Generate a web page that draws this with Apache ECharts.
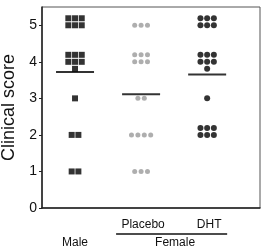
<!DOCTYPE html>
<html>
<head>
<meta charset="utf-8">
<script src="https://cdn.jsdelivr.net/npm/echarts@6/dist/echarts.min.js"></script>
<style>
  html, body { margin: 0; background: #fff; }
  #chart { width: 263px; height: 250px; }
</style>
</head>
<body>
<div id="chart"></div>
<script>
// one entry per animal: clinical score
const groups = ["Male", "Placebo", "DHT"]
const femaleLabel = "Female"
const maleScores = [5, 5, 5, 5, 5, 5, 4, 4, 4, 4, 4, 4, 4, 3, 2, 2, 1, 1]
const placeboScores = [5, 5, 5, 4, 4, 4, 4, 4, 4, 3, 3, 2, 2, 2, 2, 1, 1, 1]
const dhtScores = [5, 5, 5, 5, 5, 5, 4, 4, 4, 4, 4, 4, 4, 3, 2, 2, 2, 2, 2, 2]
const yTicks = [0, 1, 2, 3, 4, 5]

const font = "'Liberation Sans', Arial, sans-serif"

// stack identical scores side by side: first row on the value, then above, then below
function dotLayout(scores, groupX, step) {
  const counts = {}
  scores.forEach((s) => { counts[s] = (counts[s] || 0) + 1 })
  const seen = {}
  return scores.map((s) => {
    const i = (seen[s] = seen[s] === undefined ? 0 : seen[s] + 1)
    const perRow = counts[s] <= 4 ? counts[s] : 3
    const row = Math.floor(i / perRow)
    const inRow = Math.min(perRow, counts[s] - row * perRow)
    const col = i % perRow
    const dx = (col - (inRow - 1) / 2) * step
    const dy = [0, -7, 7][row]
    return { value: [groupX, s], symbolOffset: [dx, dy] }
  })
}

function mean(arr) {
  return arr.reduce((a, b) => a + b, 0) / arr.length
}

const chart = echarts.init(document.getElementById("chart"), null, { renderer: "canvas" })

chart.setOption({
  animation: false,
  backgroundColor: "#fff",
  grid: {
    left: 42,
    right: 3,
    top: 7,
    bottom: 42,
    outerBoundsMode: "none",
    show: true,
    borderColor: "#555",
    borderWidth: 1,
  },
  xAxis: {
    type: "value",
    min: 0.5,
    max: 3.8,
    axisLine: { show: true, onZero: false, lineStyle: { color: "#222", width: 1.5 } },
    axisTick: { show: false },
    axisLabel: { show: false },
    splitLine: { show: false },
  },
  yAxis: {
    type: "value",
    min: 0,
    max: 5.5,
    interval: 1,
    name: "Clinical score",
    nameLocation: "middle",
    nameGap: 23,
    nameTextStyle: { fontFamily: font, fontSize: 18, color: "#111" },
    axisLine: { show: true, onZero: false, lineStyle: { color: "#222", width: 1.5 } },
    axisTick: { show: true, length: 3, customValues: yTicks, lineStyle: { color: "#222" } },
    axisLabel: { customValues: yTicks, margin: 5, fontFamily: font, fontSize: 14, color: "#111" },
    splitLine: { show: false },
  },
  series: [
    {
      name: "Male",
      type: "scatter",
      symbol: "rect",
      symbolSize: 6,
      itemStyle: { color: "#000" },
      data: dotLayout(maleScores, 1, 6.7),
    },
    {
      name: "Placebo",
      type: "scatter",
      symbol: "circle",
      symbolSize: 5,
      itemStyle: { color: "#9a9a9a" },
      data: dotLayout(placeboScores, 2, 6.4),
    },
    {
      name: "DHT",
      type: "scatter",
      symbol: "circle",
      symbolSize: 6,
      itemStyle: { color: "#000" },
      data: dotLayout(dhtScores, 3, 6.7),
    },
    {
      name: "Mean",
      type: "scatter",
      symbol: "rect",
      symbolSize: [38, 2],
      z: 5,
      itemStyle: { color: "#000" },
      data: [
        [1, mean(maleScores)],
        [2, mean(placeboScores)],
        [3, mean(dhtScores)],
      ],
    },
  ],
})

// group labels under the axis
const px = groups.map((g, i) => chart.convertToPixel({ xAxisIndex: 0 }, i + 1))
const textStyle = { fontFamily: font, fontSize: 12, fill: "#111", align: "center", verticalAlign: "middle" }

chart.setOption({
  graphic: [
    { type: "text", x: px[0], y: 243, style: { ...textStyle, text: groups[0] } },
    { type: "text", x: px[1] + 2, y: 225, style: { ...textStyle, text: groups[1] } },
    { type: "text", x: px[2] + 2, y: 225, style: { ...textStyle, text: groups[2] } },
    {
      type: "line",
      shape: { x1: px[1] - 25, y1: 234, x2: px[2] + 20, y2: 234 },
      style: { stroke: "#111", lineWidth: 1.5 },
    },
    { type: "text", x: (px[1] + px[2]) / 2 + 1, y: 243, style: { ...textStyle, text: femaleLabel } },
  ],
})
</script>
</body>
</html>
